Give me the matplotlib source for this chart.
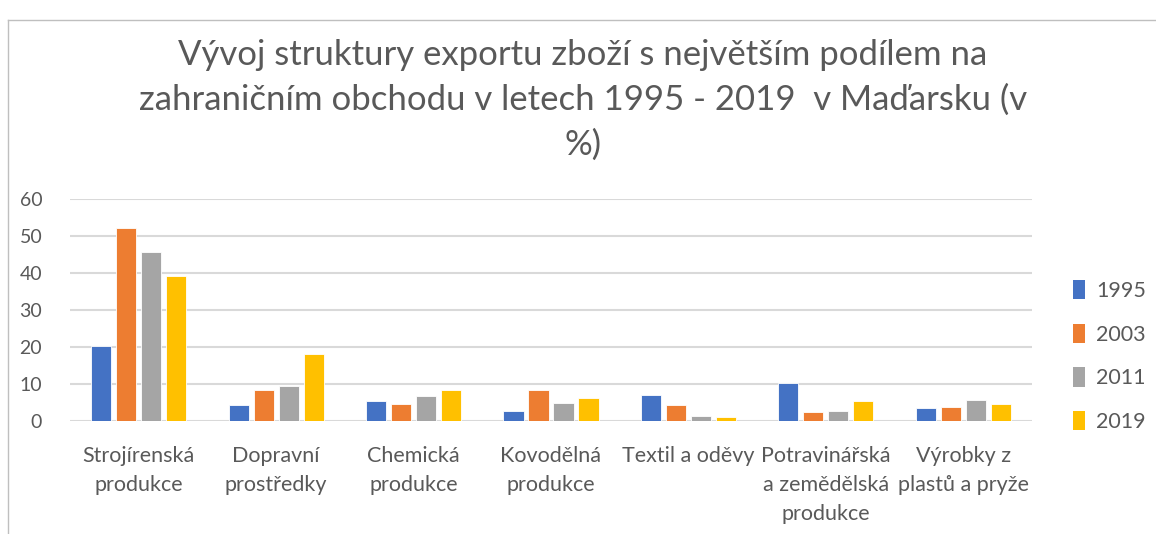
import matplotlib
matplotlib.use("Agg")
import matplotlib.pyplot as plt
from matplotlib.lines import Line2D
from matplotlib.patches import Patch
import numpy as np

plt.rcParams['font.family'] = ['Lato', 'DejaVu Sans']

categories = ["Strojírenská\nprodukce", "Dopravní\nprostředky", "Chemická\nprodukce",
              "Kovodělná\nprodukce", "Textil a oděvy", "Potravinářská\na zemědělská\nprodukce",
              "Výrobky z\nplastů a pryže"]
years = ["1995", "2003", "2011", "2019"]
v1995 = [20.3, 4.2, 5.4, 2.8, 7.1, 10.3, 3.5]
v2003 = [52.1, 8.4, 4.7, 8.4, 4.4, 2.4, 3.8]
v2011 = [45.6, 9.4, 6.8, 5.0, 1.3, 2.7, 5.7]
v2019 = [39.2, 18.0, 8.5, 6.2, 1.1, 5.5, 4.5]
series = [v1995, v2003, v2011, v2019]
colors = ["#4472C4", "#ED7D31", "#A5A5A5", "#FFC000"]

W, H = 1156, 534
fig = plt.figure(figsize=(W/100, H/100), dpi=100)
ax = fig.add_axes([70/W, 1-421/H, (1032-70)/W, (421-199)/H])

x = np.arange(len(categories))
bw = 0.146
step = 0.182
for i, (vals, c) in enumerate(zip(series, colors)):
    ax.bar(x + (i-1.5)*step, vals, width=bw, color=c, edgecolor='white', linewidth=0.6,
           label=years[i], zorder=3)

ax.set_xlim(-0.5, len(categories)-0.5)
ax.set_ylim(0, 60)
ax.set_yticks(range(0, 61, 10))
ax.yaxis.grid(True, color='#D9D9D9', linewidth=1.5, zorder=0)
ax.set_axisbelow(True)
for s in ax.spines.values():
    s.set_visible(False)
ax.tick_params(axis='both', length=0, colors='#595959')
ax.tick_params(axis='y', pad=20, labelsize=14)
ax.tick_params(axis='x', pad=18, labelsize=15.5)
ax.set_xticks(x)
ax.set_xticklabels(categories, linespacing=1.55, va='top')

tkw = dict(ha='center', va='center', fontsize=25, color='#595959')
fig.text(583/W, 1-55/H, "Vývoj struktury exportu zboží s největším podílem na", **tkw)
fig.text(583/W, 1-100/H, "zahraničním obchodu v letech 1995 - 2019  v Maďarsku (v", **tkw)
fig.text(583/W, 1-145/H, "%)", **tkw)

handles = [Patch(facecolor=c, edgecolor='none') for c in colors]
leg = fig.legend(handles, years, loc='center left', bbox_to_anchor=(1054/W, 1-356/H),
                 frameon=False, fontsize=15.5, handlelength=0.55, handleheight=1.0,
                 handletextpad=0.5, labelspacing=1.05, labelcolor='#595959')

fig.add_artist(Line2D([8/W, 8/W], [0, 1-20/H], transform=fig.transFigure, color='#BFBFBF', lw=1))
fig.add_artist(Line2D([8/W, 1], [1-20/H, 1-20/H], transform=fig.transFigure, color='#BFBFBF', lw=1))

fig.savefig("out.png", dpi=100)
